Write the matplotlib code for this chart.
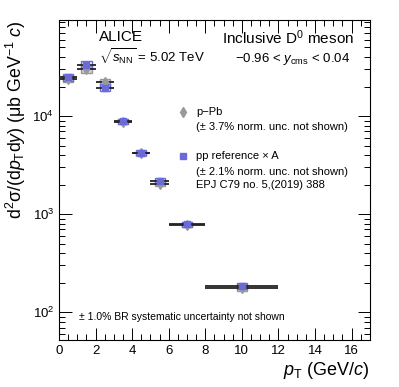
import numpy as np
import matplotlib.pyplot as plt
from matplotlib.patches import Rectangle
from matplotlib.ticker import MultipleLocator, LogLocator, NullFormatter

plt.rcParams['font.family'] = ['Liberation Sans', 'DejaVu Sans']
plt.rcParams['mathtext.fontset'] = 'custom'
plt.rcParams['mathtext.rm'] = 'Liberation Sans'
plt.rcParams['mathtext.it'] = 'Liberation Sans:italic'

# pT bins (GeV/c)
bin_lo = np.array([0, 1, 2, 3, 4, 5, 6, 8])
bin_hi = np.array([1, 2, 3, 4, 5, 6, 8, 12])
# p-Pb cross section (ub GeV^-1 c)
ppb_val = np.array([24000, 30000, 22000, 8800, 4200, 2050, 780, 178])
ppb_sys = np.array([0.08, 0.08, 0.08, 0.06, 0.06, 0.06, 0.06, 0.08])
# pp reference x A
pp_val = np.array([25000, 33500, 19500, 8900, 4250, 2180, 790, 186])
pp_sys = np.array([0.08, 0.08, 0.08, 0.06, 0.06, 0.06, 0.06, 0.08])

x = 0.5 * (bin_lo + bin_hi)
xerr = 0.5 * (bin_hi - bin_lo)

fig = plt.figure(figsize=(3.99, 3.87), dpi=100)
ax = fig.add_axes([0.148, 0.121, 0.779, 0.827])

gray = '#999999'
blue = '#6a6ad8'
box_w = 0.55

# systematic boxes
for xi, v, s in zip(x, ppb_val, ppb_sys):
    ax.add_patch(Rectangle((xi - box_w / 2, v * (1 - s)), box_w, 2 * s * v,
                           facecolor='#d0d0d0', edgecolor=gray, lw=1.0, zorder=2))
for xi, v, s in zip(x, pp_val, pp_sys):
    ax.add_patch(Rectangle((xi - box_w / 2, v * (1 - s)), box_w, 2 * s * v,
                           facecolor='none', edgecolor=blue, lw=1.0, zorder=3))

# bin width lines
ax.errorbar(x, ppb_val, xerr=xerr, fmt='none', ecolor='#222222', elinewidth=1.3, zorder=4)
ax.errorbar(x, pp_val, xerr=xerr, fmt='none', ecolor='#222222', elinewidth=1.3, zorder=4)

ax.plot(x, ppb_val, 'd', color=gray, ms=5, mec=gray, zorder=5)
ax.plot(x, pp_val, 's', color=blue, ms=3.8, mec=blue, zorder=6)

ax.set_xlim(0, 17)
ax.set_yscale('log')
ax.set_ylim(52, 95000)

ax.xaxis.set_major_locator(MultipleLocator(2))
ax.xaxis.set_minor_locator(MultipleLocator(0.5))
ax.yaxis.set_major_locator(LogLocator(base=10))
ax.yaxis.set_minor_locator(LogLocator(base=10, subs=np.arange(2, 10)))
ax.yaxis.set_minor_formatter(NullFormatter())
ax.tick_params(which='both', direction='in', top=True, right=True, labelsize=9.5)
ax.tick_params(which='major', length=9, width=0.7)
ax.tick_params(which='minor', length=4.5, width=0.7)
for sp in ax.spines.values():
    sp.set_linewidth(0.8)

ax.set_xlabel(r'$p_{\mathrm{T}}$ (GeV/$c$)', fontsize=13, loc='right', labelpad=2)
ax.set_ylabel('d$^{2}$\u03c3/(d$p_{\\mathrm{T}}$d$y$) (\u03bcb GeV$^{-1}$ $c$)',
              fontsize=12.8, loc='top', labelpad=3)

ax.text(0.13, 0.947, 'ALICE', transform=ax.transAxes, fontsize=11, va='center')
ax.text(0.13, 0.884, r'$\sqrt{s_{\mathrm{NN}}}$ = 5.02 TeV', transform=ax.transAxes,
        fontsize=9.5, va='center')
ax.text(0.949, 0.944, r'Inclusive D$^{0}$ meson', transform=ax.transAxes, fontsize=11,
        va='center', ha='right')
ax.text(0.936, 0.88, r'$-$0.96 < $y_{\mathrm{cms}}$ < 0.04', transform=ax.transAxes,
        fontsize=9.5, va='center', ha='right')

# legend
lx, tx = 0.398, 0.44
ax.plot([lx], [0.7125], 'd', color=gray, ms=5, transform=ax.transAxes)
ax.text(tx, 0.7125, 'p\u2212Pb', transform=ax.transAxes, fontsize=8, va='center')
ax.text(tx, 0.666, '(\u00b1 3.7% norm. unc. not shown)', transform=ax.transAxes,
        fontsize=8, va='center')
ax.plot([lx], [0.575], 's', color=blue, ms=3.8, transform=ax.transAxes)
ax.text(tx, 0.575, 'pp reference \u00d7 A', transform=ax.transAxes, fontsize=8, va='center')
ax.text(tx, 0.525, '(\u00b1 2.1% norm. unc. not shown)', transform=ax.transAxes,
        fontsize=8, va='center')
ax.text(tx, 0.484, 'EPJ C79 no. 5,(2019) 388', transform=ax.transAxes,
        fontsize=8, va='center')

ax.text(0.064, 0.072, '\u00b1 1.0% BR systematic uncertainty not shown',
        transform=ax.transAxes, fontsize=7.5, va='center')

fig.savefig('out.png', dpi=100)
